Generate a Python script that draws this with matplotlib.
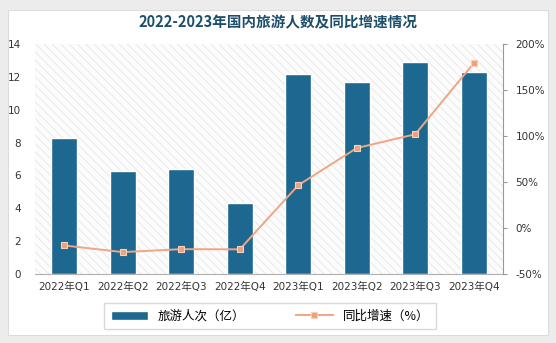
import matplotlib.pyplot as plt
from matplotlib.patches import Rectangle
from matplotlib.ticker import FuncFormatter

plt.rcParams['font.family'] = ['DejaVu Sans', 'Noto Sans CJK SC']
plt.rcParams['hatch.linewidth'] = 0.5

# data
quarters = ['2022年Q1', '2022年Q2', '2022年Q3', '2022年Q4',
            '2023年Q1', '2023年Q2', '2023年Q3', '2023年Q4']
visits = [8.30, 6.25, 6.39, 4.34, 12.16, 11.68, 12.90, 12.27]
growth = [-19.0, -26.2, -23.0, -23.2, 46.5, 86.9, 101.9, 179.1]

bar_color = '#1c6890'
line_color = '#f0a584'

fig = plt.figure(figsize=(5.56, 3.43), dpi=100)
fig.patch.set_facecolor('#ececec')
# white card
fig.add_artist(Rectangle((8 / 556, 1 - 335 / 343), 540 / 556, 325 / 343,
                         transform=fig.transFigure, facecolor='white',
                         edgecolor='#dcdcdc', lw=0.8, zorder=0))

ax = fig.add_axes([35 / 556, 1 - 274 / 343, 468 / 556, 230 / 343])
ax.set_facecolor('#fcfcfc')
ax.add_patch(Rectangle((0, 0), 1, 1, transform=ax.transAxes, hatch='\\\\\\\\',
                       facecolor='none', edgecolor='#e2e2e2', lw=0, zorder=0))

x = list(range(len(quarters)))
bars = ax.bar(x, visits, width=0.44, color=bar_color, edgecolor='white',
              linewidth=1.0, zorder=2, label='旅游人次（亿）')
ax.set_xlim(-0.5, len(quarters) - 0.5)
ax.set_ylim(0, 14)
ax.set_yticks(range(0, 15, 2))
ax.set_xticks(x)
ax.set_xticklabels(quarters, fontsize=7.5, color='#333333')
ax.tick_params(axis='y', labelsize=7.5, colors='#333333', length=0, pad=10)
ax.tick_params(axis='x', length=0, pad=6)
for s in ['top', 'left', 'right']:
    ax.spines[s].set_visible(False)
ax.spines['bottom'].set_color('#b0b0b0')

ax2 = ax.twinx()
line, = ax2.plot(x, growth, color=line_color, lw=1.4, marker='s', markersize=5,
                 markerfacecolor='#f0a07c', markeredgecolor='#f7d0bd',
                 markeredgewidth=0.8, zorder=3, label='同比增速（%）')
ax2.set_ylim(-50, 200)
ax2.set_yticks(range(-50, 201, 50))
ax2.yaxis.set_major_formatter(FuncFormatter(lambda v, p: f'{int(v)}%'))
ax2.tick_params(axis='y', labelsize=7.5, colors='#333333', length=3, pad=6)
for s in ['top', 'left', 'bottom']:
    ax2.spines[s].set_visible(False)
ax2.spines['right'].set_color('#999999')
ax2.tick_params(axis='y', color='#999999')

fig.text(0.5, 1 - 22 / 343, '2022-2023年国内旅游人数及同比增速情况',
         ha='center', va='center', fontsize=10.5, fontweight='bold',
         color='#1d4f6b', family=['Noto Sans CJK SC', 'DejaVu Sans'])

leg = fig.legend([bars, line], ['旅游人次（亿）', '同比增速（%）'],
                 loc='center', bbox_to_anchor=(270 / 556, 1 - 316 / 343),
                 ncol=2, frameon=True, fancybox=False,
                 edgecolor='#d0d0d0', handlelength=3, columnspacing=4,
                 borderpad=0.5, prop={'family': ['Noto Sans CJK SC'], 'size': 9})

fig.savefig('out.png', dpi=100, facecolor=fig.get_facecolor())
